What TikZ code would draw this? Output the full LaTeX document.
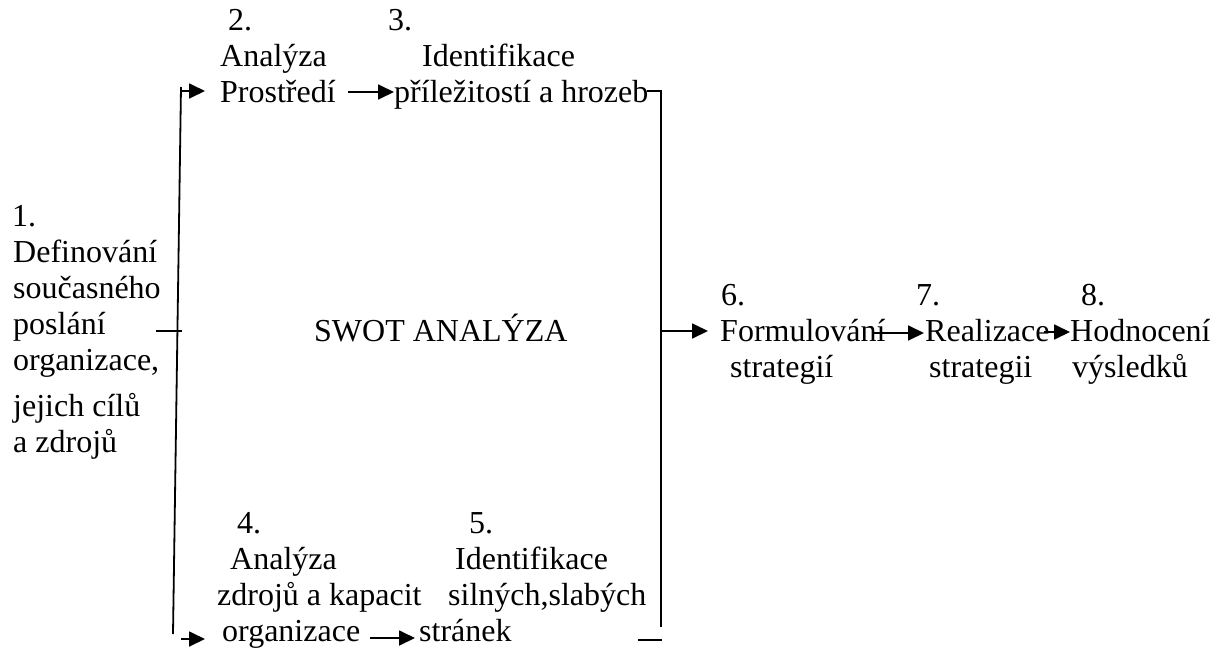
\documentclass[tikz,border=0pt]{standalone}
\usepackage{fontspec}
\setmainfont{Liberation Serif}
\usetikzlibrary{arrows.meta}
\begin{document}
\begin{tikzpicture}[x=1pt,y=-1pt,
  txt/.style={anchor=base west,inner sep=0pt,font=\fontsize{32}{37}\selectfont},
  conn/.style={line width=1.8pt},
  arr/.style={conn,-{Triangle[length=16pt,width=15pt]}}]
\useasboundingbox[fill=white] (0,0) rectangle (1223,648);
% step 1
\node[txt] (a0) at (12,226) {1.};
\node[txt] (a1) at (13,262) {Definování};
\node[txt] (a2) at (13,298) {současného};
\node[txt] (a3) at (13,334) {poslání};
\node[txt] (a4) at (13,370) {organizace,};
\node[txt] (a5) at (13,416) {jejich cílů};
\node[txt] (a6) at (13,452) {a zdrojů};
% step 2
\node[txt] (b0) at (228,30) {2.};
\node[txt] (b1) at (220,66) {Analýza};
\node[txt] (b2) at (220,102) {Prostředí};
% step 3
\node[txt] (c0) at (388,30) {3.};
\node[txt] (c1) at (422,66) {Identifikace};
\node[txt] (c2) at (394,102) {příležitostí a hrozeb};
% centre
\node[txt] (swot) at (314,341) {SWOT ANALÝZA};
% step 4
\node[txt] (d0) at (237,533) {4.};
\node[txt] (d1) at (230,569) {Analýza};
\node[txt] (d2) at (217,605) {zdrojů a kapacit};
\node[txt] (d3) at (222,641) {organizace};
% step 5
\node[txt] (e0) at (469,533) {5.};
\node[txt] (e1) at (455,569) {Identifikace};
\node[txt] (e2) at (448,605) {silných,slabých};
\node[txt] (e3) at (419,641) {stránek};
% steps 6-8
\node[txt] (f0) at (721,305) {6.};
\node[txt] (f1) at (720,341) {Formulování};
\node[txt] (f2) at (730,377) {strategií};
\node[txt] (g0) at (916,305) {7.};
\node[txt] (g1) at (925,341) {Realizace};
\node[txt] (g2) at (929,377) {strategii};
\node[txt] (h0) at (1081,305) {8.};
\node[txt] (h1) at (1070,341) {Hodnocení};
\node[txt] (h2) at (1072,377) {výsledků};
% bracket and arrow end points
\coordinate (lt) at (181,87);
\coordinate (lb) at (173,634);
\coordinate (lta) at (181,91);
\coordinate (ltb) at (205,91);
\coordinate (lba) at (181,639);
\coordinate (lbb) at (205,639);
\coordinate (tk1) at (156,331);
\coordinate (tk2) at (182,331);
\coordinate (rt0) at (647,91);
\coordinate (rt) at (661,91);
\coordinate (rb) at (661,627);
\coordinate (rm) at (661,331);
\coordinate (rma) at (708,331);
\coordinate (bd1) at (638,640);
\coordinate (bd2) at (662,640);
\coordinate (p1) at (348,92);
\coordinate (p2) at (370,638);
\coordinate (p3) at (874,333);
\coordinate (p4) at (1044,332);
% left bracket
\draw[conn] (lt) -- (lb);
\draw[conn] (tk1) -- (tk2);
\draw[arr] (lta) -- (ltb);
\draw[arr] (lba) -- (lbb);
% right bracket
\draw[conn] (rt0) -- (rt) -- (rb);
\draw[conn] (bd1) -- (bd2);
\draw[arr] (rm) -- (rma);
% flow arrows
\draw[arr] (p1) -- (c2.west |- p1);
\draw[arr] (p2) -- ([xshift=-4pt]e3.west |- p2);
\draw[arr] (p3) -- ([xshift=-1pt]g1.west |- p3);
\draw[arr] (p4) -- (h1.west |- p4);
\end{tikzpicture}
\end{document}
